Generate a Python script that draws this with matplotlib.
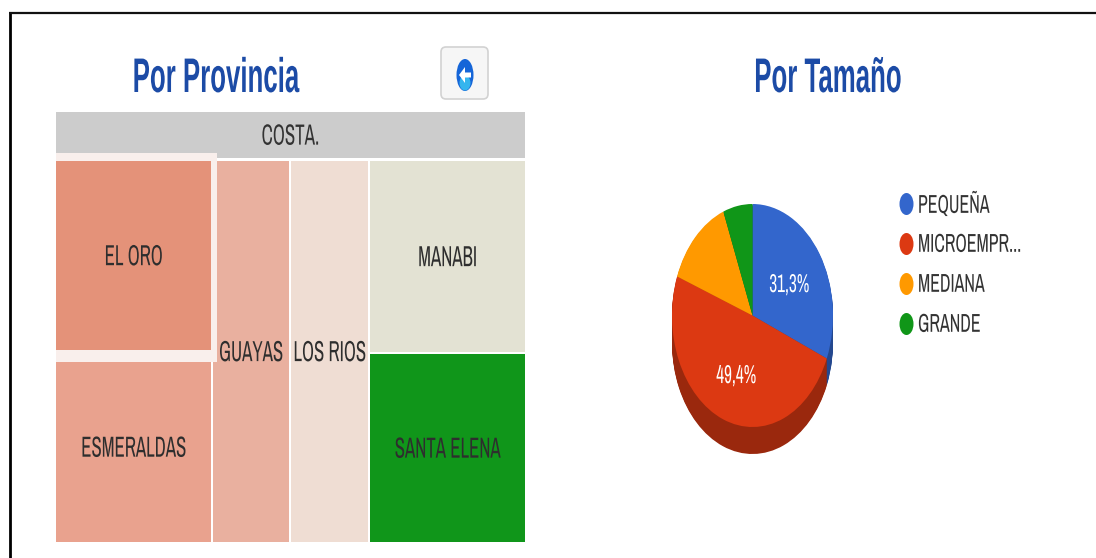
import matplotlib
matplotlib.use("Agg")
import matplotlib.pyplot as plt
from matplotlib.patches import Rectangle, Ellipse, FancyBboxPatch, Polygon
from matplotlib.patheffects import AbstractPathEffect
from matplotlib.transforms import Affine2D

plt.rcParams['font.family'] = ['Archivo Narrow', 'PT Sans Narrow', 'Liberation Sans', 'DejaVu Sans']

W, H = 1096, 558

# treemap data
region = "COSTA."
tree_columns = [["EL ORO", "ESMERALDAS"], ["GUAYAS"], ["LOS RIOS"], ["MANABI", "SANTA ELENA"]]
tree_values = [[30.0, 30.1], [29.9], [30.3], [30.3, 29.8]]
tree_colors = [["#e49279", "#e9a28e"], ["#e9b09f"], ["#efddd3"], ["#e3e2d3", "#10961a"]]

# pie data
pie_labels = ["PEQUEÑA", "MICROEMPR...", "MEDIANA", "GRANDE"]
pie_values = [31.3, 49.4, 13.4, 5.9]
pie_colors = ["#3366cc", "#dc3912", "#ff9900", "#109618"]
pie_dark = ["#24488f", "#9a280d", "#b36b00", "#0b6911"]


# the screenshot was resized unevenly, glyphs are taller than their width suggests
class Stretch(AbstractPathEffect):
    def __init__(self, sy, anchor=35):
        super().__init__()
        self.sy = sy
        self.anchor = anchor

    def draw_path(self, renderer, gc, tpath, affine, rgbFace=None):
        t = Affine2D().translate(0, -self.anchor).scale(1, self.sy).translate(0, self.anchor) + affine
        renderer.draw_path(gc, tpath, t, rgbFace)


fig = plt.figure(figsize=(W / 100, H / 100), dpi=100, facecolor="white")
ax = fig.add_axes([0, 0, 1, 1])
ax.set_xlim(0, W)
ax.set_ylim(H, 0)
ax.axis("off")

# frame of the screenshot
ax.plot([9.5, 9.5], [H, 12.5], color="black", lw=2, solid_capstyle="butt")
ax.plot([9, W], [12.5, 12.5], color="#111111", lw=1.6, solid_capstyle="butt")

title_color = "#1c4ba6"
for tx, s in [(216, "Por Provincia"), (828, "Por Tamaño")]:
    ax.text(tx, 92, s, fontsize=18.6, fontweight="bold", family=['Liberation Sans'], color=title_color,
            ha="center", va="baseline", path_effects=[Stretch(1.88, anchor=0)])

# back button
ax.add_patch(FancyBboxPatch((443, 49), 43, 48, boxstyle="round,pad=2,rounding_size=5",
                            fc="#f6f6f6", ec="#d2d2d2", lw=1.2))
ax.add_patch(Ellipse((465, 75), 17, 32, fc="#1565d8", ec="none"))
ax.add_patch(Ellipse((465, 83), 11, 15, fc="#35b5ee", ec="none"))
ax.add_patch(Polygon([(459, 75), (465, 67), (465, 72.5), (471, 72.5), (471, 77.5), (465, 77.5), (465, 83)],
                     fc="white", ec="none"))

# treemap
left, right = 56, 525
top, bottom = 161, 542
gap = 2
label_fx = [Stretch(1.55)]

ax.add_patch(Rectangle((left, 112), right - left, 46, fc="#cccccc", ec="none"))
ax.text((left + right) / 2, 136, region, fontsize=13.6, color="#333333", ha="center", va="center",
        path_effects=label_fx)

total = sum(sum(c) for c in tree_values)
x = left
for names, vals, cols in zip(tree_columns, tree_values, tree_colors):
    col_w = (right - left + gap) * sum(vals) / total
    y = top
    for name, v, c in zip(names, vals, cols):
        h = (bottom - top + gap) * v / sum(vals)
        z = 2
        if name == "EL ORO":
            # selected tile gets a pale halo that runs over its neighbours
            ax.add_patch(Rectangle((x, y - 8), col_w + 4, h + 18, fc="#f9efec", ec="none", zorder=2.5))
            z = 2.7
        ax.add_patch(Rectangle((x, y), col_w - gap, h - gap, fc=c, ec="none", zorder=z))
        ax.text(x + (col_w - gap) / 2, y + (h - gap) / 2 + 1, name, fontsize=13.5, color="#2e2e2e",
                ha="center", va="center", zorder=3, path_effects=label_fx)
        y += h
    x += col_w

# pie, the axes box is stretched so the pie comes out as a tall ellipse
cx, cy, rx, ry = 752.5, 315.5, 80.5, 111.5
depth = 27
pad = 1.05
pie_ax = fig.add_axes([(cx - rx * pad) / W, 1 - (cy + ry * pad) / H, 2 * rx * pad / W, 2 * ry * pad / H])
pie_ax.axis("off")
for d in range(depth, 0, -1):
    pie_ax.pie(pie_values, colors=pie_dark, startangle=90, counterclock=False, radius=1,
               center=(0, -d / ry))
wedges, texts, autotexts = pie_ax.pie(
    pie_values, colors=pie_colors, startangle=90, counterclock=False, radius=1,
    autopct=lambda p: f"{p:.1f}%".replace(".", ",") if p > 20 else "", pctdistance=0.55,
    textprops={"color": "white", "fontsize": 12.4, "path_effects": [Stretch(1.5)]})
for at in autotexts:
    at.set_y(at.get_position()[1] - 3 / ry)
pie_ax.set_aspect("auto")
pie_ax.set_xlim(-pad, pad)
pie_ax.set_ylim(-pad, pad)
for p in pie_ax.patches:
    p.set_clip_on(False)

# legend
for i, (lab, col) in enumerate(zip(pie_labels, pie_colors)):
    ly = 204 + i * 40
    ax.add_patch(Ellipse((906.5, ly), 14, 22, fc=col, ec="none"))
    ax.text(918, ly, lab, fontsize=12.85, color="#333333", ha="left", va="center",
            path_effects=[Stretch(1.45)])

fig.savefig("out.png", dpi=100, facecolor="white")
